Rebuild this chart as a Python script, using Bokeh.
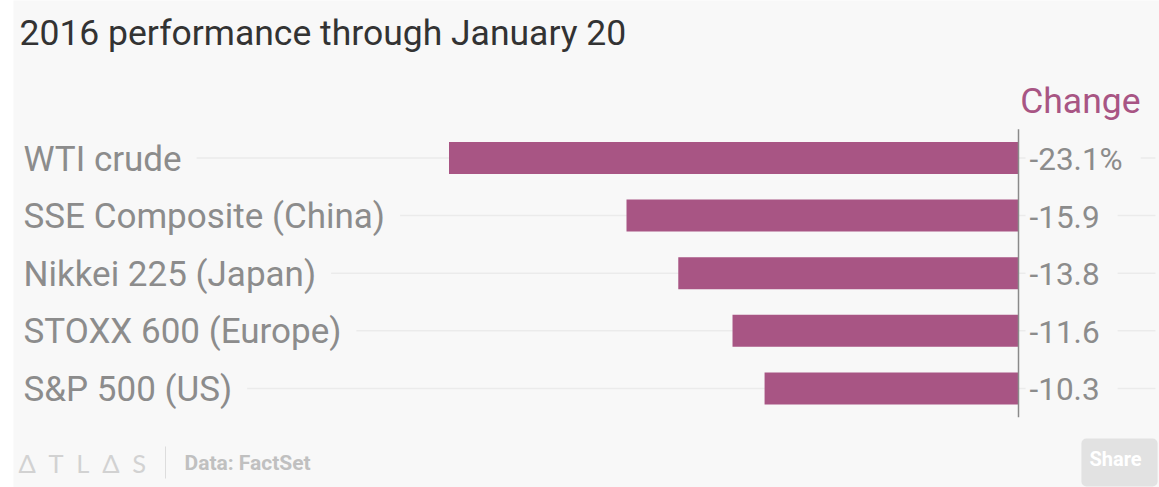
from bokeh.plotting import figure
from bokeh.models import Range1d, Label, ColumnDataSource
from bokeh.embed import file_html
from bokeh.resources import INLINE

# ---- data ----
categories = ["WTI crude", "SSE Composite (China)", "Nikkei 225 (Japan)",
              "STOXX 600 (Europe)", "S&P 500 (US)"]
changes = [-23.1, -15.9, -13.8, -11.6, -10.3]
value_labels = ["-23.1%", "-15.9", "-13.8", "-11.6", "-10.3"]
title_text = "2016 performance through January 20"
column_title = "Change"
source_text = "Data: FactSet"

# ---- layout constants (pixels) ----
W, H = 1159, 487
LEFT = 13
ZERO_PX = 1018.0
PX_PER_UNIT = (1018.0 - 448.5) / 23.1
ROW0_PX = 157.5
ROW_STEP = 57.6

def xval(px):
    return (px - ZERO_PX) / PX_PER_UNIT

def yval(py):
    return (py - ROW0_PX) / ROW_STEP

BG = "#f8f8f8"
BAR = "#a85584"
GRID = "#ebebeb"
LABEL_COLOR = "#8c8c8c"

p = figure(width=W, height=H, output_backend="svg", toolbar_location=None,
           x_axis_location=None, y_axis_location=None,
           min_border_left=LEFT, min_border_right=0, min_border_top=0, min_border_bottom=0,
           x_range=Range1d(xval(LEFT), xval(W)),
           y_range=Range1d(yval(H), yval(0)))
p.background_fill_color = BG
p.border_fill_color = "white"
p.outline_line_color = None
p.grid.visible = False

idx = list(range(len(categories)))
src = ColumnDataSource(dict(y=idx, change=changes, cat=categories, lab=value_labels,
                            zero=[0] * len(idx)))

# grid lines per row
p.segment(x0=xval(24), x1=xval(1155), y0="y", y1="y", source=src,
          line_color=GRID, line_width=1.5)

# bars
p.hbar(y="y", left="change", right="zero", height=0.555, source=src,
       fill_color=BAR, line_color=None)

# zero line
p.segment(x0=[0], x1=[0], y0=[-0.5], y1=[len(idx) - 0.5],
          line_color="#8a8a8a", line_width=1.5)

# category labels (with background to hide grid behind text)
for i, c in enumerate(categories):
    p.add_layout(Label(x=xval(19), y=i, text=c, text_font="Roboto",
                       text_font_size="35px", text_color=LABEL_COLOR,
                       text_baseline="middle", background_fill_color=BG,
                       border_line_color=None, padding=(4, 15, 4, 2)))

for i, v in enumerate(value_labels):
    p.add_layout(Label(x=xval(1025), y=i, text=v, text_font="Roboto",
                       text_font_size="31.5px", text_color=LABEL_COLOR,
                       text_baseline="middle", background_fill_color=BG,
                       border_line_color=None, padding=(4, 18, 4, 2)))

# column header
p.add_layout(Label(x=xval(1140), y=yval(100), text=column_title, text_font="Roboto",
                   text_font_size="35.5px", text_color=BAR,
                   text_align="right", text_baseline="middle"))

# title
p.add_layout(Label(x=xval(19), y=yval(32), text=title_text, text_font="Roboto",
                   text_font_size="35.5px", text_color="#333333",
                   text_baseline="middle"))

# footer
p.add_layout(Label(x=xval(18), y=yval(462),
                   text="\u0394\u2002T\u2002L\u2002\u0394\u2002S",
                   text_font="Lato", text_font_size="25.5px",
                   text_color="#d2d2d2", text_baseline="middle"))
p.segment(x0=[xval(165)], x1=[xval(165)], y0=[yval(446)], y1=[yval(478)],
          line_color="#dddddd", line_width=1)
p.add_layout(Label(x=xval(184), y=yval(462), text=source_text, text_font="Roboto",
                   text_font_size="21px", text_color="#c0c0c0", text_font_style="bold",
                   text_baseline="middle"))

# share button
p.add_layout(Label(x=xval(1119), y=yval(462), text="Share", text_font="Roboto",
                   text_font_size="20px", text_color="white", text_font_style="bold",
                   text_align="center", text_baseline="middle",
                   background_fill_color="#e2e2e2", border_line_color=None,
                   padding=(8, 16, 8, 16), border_radius=5))

open("out.html", "w").write(file_html(p, INLINE))
